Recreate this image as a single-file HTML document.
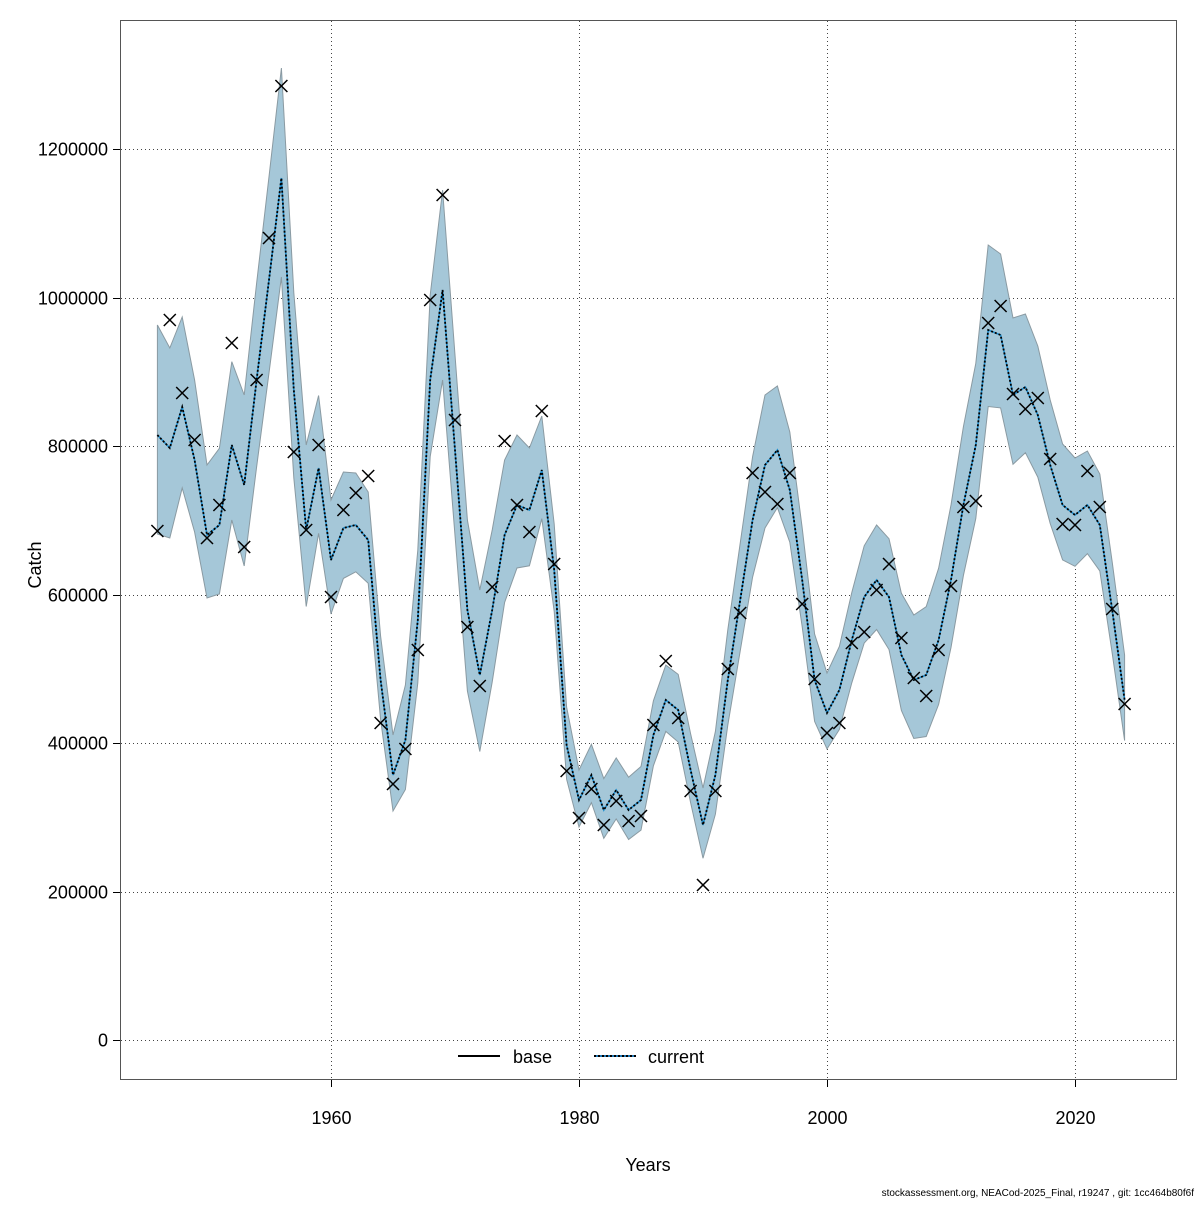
<!DOCTYPE html>
<html><head><meta charset="utf-8"><style>
html,body{margin:0;padding:0;background:#fff;}
svg text{font-family:"Liberation Sans",sans-serif;}
</style></head><body>
<svg id="s" width="1200" height="1200" xmlns="http://www.w3.org/2000/svg">
<rect x="0" y="0" width="1200" height="1200" fill="#fff"/>
<g id="grid" stroke="#444" stroke-width="1" stroke-dasharray="1,3"></g>
<g id="plot"></g>
<rect x="120.5" y="20.5" width="1056" height="1059" fill="none" stroke="#555" stroke-width="1"/>
<g id="ax" font-size="18" fill="#000"></g>
<text x="41" y="565" font-size="18" text-anchor="middle" transform="rotate(-90 41 565)">Catch</text>
<text x="648" y="1171" font-size="18" text-anchor="middle">Years</text>
<line x1="458" y1="1056" x2="500" y2="1056" stroke="#000" stroke-width="2"/>
<text x="513" y="1063" font-size="18">base</text>
<line x1="594" y1="1056" x2="636" y2="1056" stroke="#1f77b4" stroke-width="2"/>
<line x1="594" y1="1056" x2="636" y2="1056" stroke="#000" stroke-width="2" stroke-dasharray="2,2"/>
<text x="648" y="1063" font-size="18">current</text>
<text x="1194" y="1196" font-size="10" text-anchor="end">stockassessment.org, NEACod-2025_Final, r19247 , git: 1cc464b80f6f</text>
</svg>
<script>
var obs=[531,320,393,440,538,505,343,547,380,238,86,452,530,445,597,510,493,476,723,784,749,650,300,195,420,627,686,587,441,505,532,411,564,771,818,789,825,801,821,816,725,661,718,791,885,791,669,613,473,492,504,473,604,679,733,723,643,632,590,564,638,678,696,650,586,507,501,323,306,394,409,398,459,524,525,471,507,609,704];
var fit=[435,448,407,460,535,525,445,485,380,280,178,390,530,468,560,528,525,540,680,775,740,620,380,290,450,610,675,610,535,505,510,470,570,745,800,775,810,790,810,800,735,700,710,770,825,775,680,600,520,465,450,490,580,680,713,690,640,597,580,597,655,680,675,640,580,505,445,330,335,395,387,415,465,505,515,505,525,610,700];
var hwk=[[1946,110],[1950,70],[1956,110],[1960,60],[1965,40],[1969,100],[1975,70],[1980,30],[1990,37],[1995,70],[2000,40],[2004,55],[2013,85],[2020,57],[2024,45]];
function hw(y){for(var i=0;i<hwk.length-1;i++){var a=hwk[i],b=hwk[i+1];if(y>=a[0]&&y<=b[0])return a[1]+(b[1]-a[1])*(y-a[0])/(b[0]-a[0]);}return 45;}
function X(yr){return 331+(yr-1960)*12.4;}
var ns="http://www.w3.org/2000/svg";
function el(p,t,a,txt){var e=document.createElementNS(ns,t);for(var k in a)e.setAttribute(k,a[k]);if(txt!=null)e.textContent=txt;document.getElementById(p).appendChild(e);return e;}
[1960,1980,2000,2020].forEach(function(y){var x=Math.round(X(y))+0.5;el("grid","line",{x1:x,y1:21,x2:x,y2:1079});});
for(var v=0;v<=1200000;v+=200000){var y=Math.round(1040-v*0.0007425)+0.5;el("grid","line",{x1:121,y1:y,x2:1176,y2:y});
el("ax","line",{x1:113,y1:y,x2:120,y2:y,stroke:"#000"});el("ax","text",{x:108,y:y+6,"text-anchor":"end"},String(v));}
[1960,1980,2000,2020].forEach(function(yr){var x=Math.round(X(yr))+0.5;el("ax","line",{x1:x,y1:1080,x2:x,y2:1087,stroke:"#000"});el("ax","text",{x:x,y:1124,"text-anchor":"middle"},String(yr));});
var up=[],lo=[];
for(var i=0;i<fit.length;i++){var yr=1946+i,h=hw(yr);up.push(X(yr).toFixed(1)+","+(fit[i]-h).toFixed(1));lo.unshift(X(yr).toFixed(1)+","+(fit[i]+h*0.9).toFixed(1));}
el("plot","polygon",{points:up.concat(lo).join(" "),fill:"#a5c7d8",stroke:"#8a9aa2","stroke-width":1});
var pts=fit.map(function(f,i){return X(1946+i).toFixed(1)+","+f;}).join(" ");
el("plot","polyline",{points:pts,fill:"none",stroke:"#1f8fd0","stroke-width":1.6});
el("plot","polyline",{points:pts,fill:"none",stroke:"#000","stroke-width":1.8,"stroke-dasharray":"2,2"});
obs.forEach(function(o,i){var x=X(1946+i);el("plot","path",{d:"M"+(x-6)+","+(o-6)+"L"+(x+6)+","+(o+6)+"M"+(x-6)+","+(o+6)+"L"+(x+6)+","+(o-6),stroke:"#000","stroke-width":1.5});});
</script>
</body></html>
